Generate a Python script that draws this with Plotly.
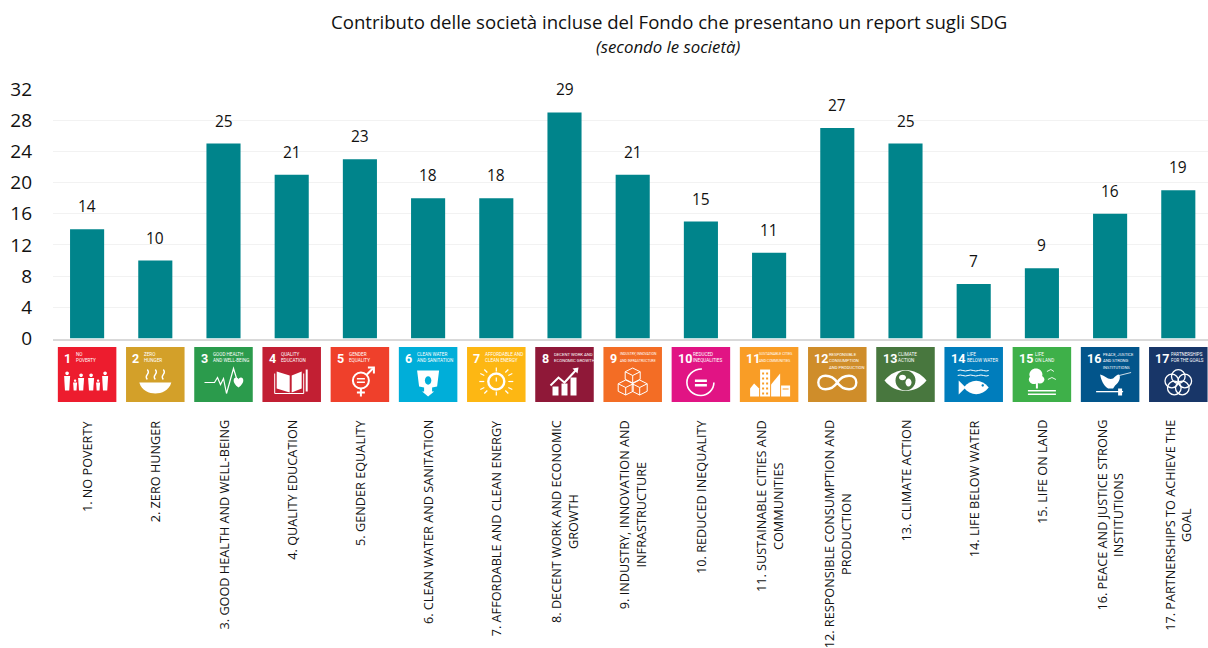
import re
import plotly.graph_objects as go

# Chart content
goal_labels = [
    "1. NO POVERTY", "2. ZERO HUNGER", "3. GOOD HEALTH AND WELL-BEING", "4. QUALITY EDUCATION",
    "5. GENDER EQUALITY", "6. CLEAN WATER AND SANITATION", "7. AFFORDABLE AND CLEAN ENERGY",
    "8. DECENT WORK AND ECONOMIC<br>GROWTH", "9. INDUSTRY, INNOVATION AND<br>INFRASTRUCTURE",
    "10. REDUCED INEQUALITY", "11. SUSTAINABLE CITIES AND<br>COMMUNITIES",
    "12. RESPONSIBLE CONSUMPTION AND<br>PRODUCTION", "13. CLIMATE ACTION", "14. LIFE BELOW WATER",
    "15. LIFE ON LAND", "16. PEACE AND JUSTICE STRONG<br>INSTITUTIONS",
    "17. PARTNERSHIPS TO ACHIEVE THE<br>GOAL",
]
company_counts = [14, 10, 25, 21, 23, 18, 18, 29, 21, 15, 11, 27, 25, 7, 9, 16, 19]
y_ticks = [0, 4, 8, 12, 16, 20, 24, 28, 32]
tile_colors = [
    "#ED1C2E", "#D3A029", "#2B9B4C", "#C21F33", "#EF402B", "#00AED9", "#FDB713", "#8F1838", "#F36D25",
    "#E11484", "#F99D26", "#CF8D2A", "#48773E", "#007DBC", "#3EB049", "#02558B", "#183668",
]
tile_numbers = [str(n) for n in range(1, 18)]
tile_captions = [
    ["NO", "POVERTY"], ["ZERO", "HUNGER"], ["GOOD HEALTH", "AND WELL-BEING"], ["QUALITY", "EDUCATION"],
    ["GENDER", "EQUALITY"], ["CLEAN WATER", "AND SANITATION"], ["AFFORDABLE AND", "CLEAN ENERGY"],
    ["DECENT WORK AND", "ECONOMIC GROWTH"], ["INDUSTRY, INNOVATION", "AND INFRASTRUCTURE"],
    ["REDUCED", "INEQUALITIES"], ["SUSTAINABLE CITIES", "AND COMMUNITIES"],
    ["RESPONSIBLE", "CONSUMPTION", "AND PRODUCTION"], ["CLIMATE", "ACTION"], ["LIFE", "BELOW WATER"],
    ["LIFE", "ON LAND"], ["PEACE, JUSTICE", "AND STRONG", "INSTITUTIONS"], ["PARTNERSHIPS", "FOR THE GOALS"],
]
caption_offsets = [-12, -12, -12, -12, -12, -12, -12, -12, -14, -9, -11, -9, -9, -8, -8, -8, -8]

W, H = 1208, 648
TEAL = "#00848B"
INK = "#111111"
FONT = "Open Sans"
CAPTION_FONT = "Roboto"


# Small vector helpers for the tile pictograms (pixels from the tile centre, y downwards)
def pt(x, y):
    return f"{x:.2f},{-y:.2f}"


def curve(path):
    return re.sub(r"(-?\d+\.?\d*),(-?\d+\.?\d*)", lambda m: pt(float(m[1]), float(m[2])), path)


def poly(*points, close=True):
    body = " L".join(pt(x, y) for x, y in points)
    return f"M{body}" + (" Z" if close else "")


def rect(x0, y0, x1, y1):
    return poly((x0, y0), (x1, y0), (x1, y1), (x0, y1))


def ellipse(cx, cy, rx, ry):
    k = 0.5523
    return (
        f"M{pt(cx + rx, cy)} C{pt(cx + rx, cy + k * ry)} {pt(cx + k * rx, cy + ry)} {pt(cx, cy + ry)} "
        f"C{pt(cx - k * rx, cy + ry)} {pt(cx - rx, cy + k * ry)} {pt(cx - rx, cy)} "
        f"C{pt(cx - rx, cy - k * ry)} {pt(cx - k * rx, cy - ry)} {pt(cx, cy - ry)} "
        f"C{pt(cx + k * rx, cy - ry)} {pt(cx + rx, cy - k * ry)} {pt(cx + rx, cy)} Z"
    )


def person(x, top, h, w):
    return [ellipse(x, top + w * 0.3, w * 0.3, w * 0.3),
            poly((x - w / 2, top + w * 0.75), (x + w / 2, top + w * 0.75), (x + w * 0.35, top + h), (x - w * 0.35, top + h))]


def fill(*paths):
    return [("fill", p, 0) for p in paths]


def cut(*paths):
    return [("cut", p, 0) for p in paths]


def stroke(width, *paths):
    return [("line", p, width) for p in paths]


def seg(x0, y0, x1, y1):
    return poly((x0, y0), (x1, y1), close=False)


def squiggle(x, y0, y1):
    m = (y0 + y1) / 2
    return f"M{pt(x, y1)} Q{pt(x - 2.2, (y1 + m) / 2)} {pt(x, m)} Q{pt(x + 2.2, (y0 + m) / 2)} {pt(x, y0)}"


def wave(x0, x1, y):
    step = (x1 - x0) / 6
    d = f"M{pt(x0, y)}"
    for i in range(6):
        d += f" Q{pt(x0 + (i + .5) * step, y + (1 if i % 2 else -1))} {pt(x0 + (i + 1) * step, y)}"
    return d


def cube(cx, cy, s):
    return [poly((cx, cy - s), (cx + s, cy - s / 2), (cx + s, cy + s / 2), (cx, cy + s), (cx - s, cy + s / 2), (cx - s, cy - s / 2)),
            poly((cx - s, cy - s / 2), (cx, cy), (cx + s, cy - s / 2), close=False),
            seg(cx, cy, cx, cy + s)]


icons = [
    # 1 family
    fill(*person(-20, -3, 19, 6), *person(-12, 5, 11, 4), *person(-6, -1, 17, 6), *person(4, -1, 17, 6), *person(11, 5, 11, 4), *person(18, -3, 19, 6)),
    # 2 steaming bowl
    fill(curve("M-16,8 L16,8 C14,16 6,19 0,19 C-6,19 -14,16 -16,8 Z"))
    + stroke(1.3, squiggle(-8, -5, 5), squiggle(0, -5, 5), squiggle(8, -5, 5)),
    # 3 heartbeat and heart
    stroke(1.2, poly((-19, 8), (-9, 8), (-6, 3), (-3, 10), (0, 4), (3, 19), (10, -6), (14, 7), close=False))
    + fill(curve("M15,13 C8,8 10,3 12.5,3 C14,3 15,4 15,5 C15,4 16,3 17.5,3 C20,3 22,8 15,13 Z")),
    # 4 open book and pencil
    stroke(1.0, poly((-17, -1), (-17, 19), (12, 19), (12, -1), close=False))
    + fill(poly((-15, -3), (-2, 1), (-2, 18), (-15, 14)), poly((10, -3), (0, 1), (0, 18), (10, 14)), rect(14, -5, 16, 17)),
    # 5 gender symbol
    stroke(2.0, ellipse(1, 6, 8, 8), seg(1, 14, 1, 22), seg(-3, 18, 5, 18), seg(7, 0, 13, -6), poly((8, -7), (14, -7), (14, -1), close=False))
    + fill(rect(-3, 3.5, 5, 5), rect(-3, 7, 5, 8.5)),
    # 6 glass with water drop
    fill(poly((-11, -4), (11, -4), (9, 12), (4, 13), (4, 17), (6, 17), (0, 22), (-6, 17), (-4, 17), (-4, 13), (-9, 12)))
    + cut(ellipse(0, 6, 3.2, 4.2)),
    # 7 sun with power sign
    stroke(2.4, ellipse(0, 7, 8, 8))
    + stroke(1.2, *[seg(a, b, c, d) for a, b, c, d in [
        (0, -7, 0, -3), (0, 17, 0, 21), (-12, 7, -17, 7), (12, 7, 17, 7), (-9, -2, -12, -5), (9, -2, 12, -5),
        (-9, 16, -12, 19), (9, 16, 12, 19), (-12, 1, -16, -1), (12, 1, 16, -1), (-12, 13, -16, 15), (12, 13, 16, 15)]])
    + stroke(1.2, seg(0, 3, 0, 7)),
    # 8 rising bars and arrow
    fill(rect(-12, 12, -6, 21), rect(-3, 9, 3, 21), rect(6, 3, 12, 21), poly((8, -6), (14, -7), (13, -1)))
    + stroke(2.0, poly((-14, 11), (-6, 3), (0, 8), (12, -5), close=False)),
    # 9 stacked cubes
    stroke(1.0, *cube(-7, 13, 7.5), *cube(7, 13, 7.5), *cube(0, 1, 7.5)),
    # 10 broken ring with equals
    stroke(1.6, curve("M1,-5.5 C-8,-5.5 -14,1 -14,8 C-14,15 -8,21 0,21 C7,21 13,15 13,8"))
    + fill(rect(-6, 5, 6, 7.5), rect(-6, 9.5, 6, 12)),
    # 11 city skyline
    fill(poly((-19, 22), (-19, 14), (-15, 9), (-10, 14), (-10, 22)), rect(-9, -5, 1, 22), poly((2, 22), (2, 10), (11, -1), (11, 22)), rect(12, 11, 21, 22))
    + cut(*[rect(x, y, x + 2, y + 2) for x in (-7, -3) for y in (-2, 3, 8, 13, 18)], rect(13.5, 14, 19.5, 15)),
    # 12 infinity loop
    stroke(2.4, curve("M0,8 C-6,17 -19,17 -19,8 C-19,-1 -6,-1 0,8 C6,17 19,17 19,8 C19,-1 6,-1 0,8 Z")),
    # 13 eye with globe
    fill(curve("M-21,6 C-10,-8 10,-8 21,6 C10,20 -10,20 -21,6 Z"))
    + cut(ellipse(0, 6, 10, 10)) + fill(ellipse(-3, 3, 3.5, 2.8), ellipse(3, 8, 3, 4)),
    # 14 waves and fish
    stroke(1.0, wave(-16, 15, -4), wave(-16, 15, 1))
    + fill(curve("M-10,13 C-3,4 8,4 15,13 C8,22 -3,22 -10,13 Z"), poly((-15, 6), (-8, 13), (-15, 20)))
    + cut(ellipse(9, 11, 1.2, 1.2)),
    # 15 tree, birds and ground
    fill(ellipse(-6, 0, 6.5, 6), ellipse(-8, 5, 5, 4.5), ellipse(-2, 5, 4.5, 4), rect(-6, 8, -4, 14), rect(-14, 15.5, 14, 17), rect(-14, 19, 14, 20.5))
    + stroke(0.9, poly((5, -3), (9, -5), (12, -3), close=False), poly((6, 5), (10, 3), (14, 5), close=False)),
    # 16 dove and gavel
    fill(curve("M-10,0 C-5,1 -2,6 3,4 C5,2 7,0 9,0 C11,3 9,8 5,11 L3,14 L-2,14 C-7,11 -9,5 -10,0 Z"), rect(-14, 16.5, 13, 17.8), rect(8, 14, 12, 21))
    + stroke(0.8, seg(9, 1, 21, -2)),
    # 17 interlocking rings
    stroke(1.3, ellipse(0, 2, 6.8, 6.8), ellipse(-6.5, 6.5, 6.8, 6.8), ellipse(6.5, 6.5, 6.8, 6.8), ellipse(-4, 13.5, 6.8, 6.8), ellipse(4, 13.5, 6.8, 6.8)),
]

positions = list(range(len(goal_labels)))

fig = go.Figure()
fig.add_bar(x=positions, y=company_counts, width=0.5, marker=dict(color=TEAL, line_width=0),
            xaxis="x", yaxis="y", hoverinfo="skip")
fig.add_bar(x=positions, y=[1] * len(positions), width=0.858, marker=dict(color=tile_colors, line_width=0),
            xaxis="x", yaxis="y2", hoverinfo="skip")
# Empty trace keeps the full-page pixel axes alive; free-standing text is placed on them
fig.add_scatter(x=[], y=[], xaxis="x3", yaxis="y3", hoverinfo="skip")

annotations = [
    dict(text="Contributo delle società incluse del Fondo che presentano un report sugli SDG", xref="x3", yref="y3",
         x=668.5, y=21, showarrow=False, font=dict(family=FONT, size=18.6, color=INK)),
    dict(text="<i>(secondo le società)</i>", xref="x3", yref="y3", x=667.5, y=46,
         showarrow=False, font=dict(family=FONT, size=16.8, color=INK)),
]
for i, value in enumerate(company_counts):
    annotations.append(dict(text=str(value), x=i, y=value, xref="x", yref="y", yanchor="middle", yshift=23,
                            showarrow=False, font=dict(family=FONT, size=15.5, color=INK)))
    annotations.append(dict(text=goal_labels[i], x=i, y=418, xref="x", yref="y3", yanchor="top", textangle=-90,
                            align="center", showarrow=False, font=dict(family=FONT, size=12.7, color=INK)))
    annotations.append(dict(text=f"<b>{tile_numbers[i]}</b>", x=i, y=358, xref="x", yref="y3", xanchor="left", yanchor="middle",
                            xshift=-25, showarrow=False, font=dict(family=CAPTION_FONT, size=12.5, color="white")))
    lines = tile_captions[i]
    room = 26.5 - caption_offsets[i]
    size = min(4.6, room / (0.6 * max(len(line) for line in lines)))
    for j, line in enumerate(lines):
        annotations.append(dict(text=line, x=i, y=354.3 + 6.4 * j, xref="x", yref="y3", xanchor="left", yanchor="middle",
                                xshift=caption_offsets[i] - 1, showarrow=False,
                                font=dict(family=CAPTION_FONT, size=size, color="white")))

shapes = []
for i, icon in enumerate(icons):
    for kind, path, width in icon:
        shape = dict(type="path", path=path, xref="x", yref="y2", xsizemode="pixel", ysizemode="pixel",
                     xanchor=i, yanchor=0.5, layer="above")
        if kind == "fill":
            shape.update(fillcolor="white", line_width=0)
        elif kind == "cut":
            shape.update(fillcolor=tile_colors[i], line_width=0)
        else:
            shape.update(fillcolor="rgba(0,0,0,0)", line=dict(color="white", width=width))
        shapes.append(shape)

fig.update_layout(
    width=W, height=H, autosize=False, margin=dict(l=0, r=0, t=0, b=0, pad=0, autoexpand=False),
    paper_bgcolor="white", plot_bgcolor="rgba(0,0,0,0)", showlegend=False, barmode="overlay", hovermode=False,
    annotations=annotations, shapes=shapes,
    xaxis=dict(domain=[53 / W, 1], range=[-0.5, -0.5 + (W - 53) / 68.2], showgrid=False, zeroline=False,
               showticklabels=False, ticks="", showline=True, linecolor="#D9D9D9", linewidth=2, anchor="y"),
    yaxis=dict(domain=[1 - 338.5 / H, 1 - 89 / H], range=[0, 32], tickvals=y_ticks, gridcolor="#F2F2F2", gridwidth=1,
               zeroline=False, showline=False, ticks="", ticklabelstandoff=20,
               tickfont=dict(family=FONT, size=19, color=INK)),
    yaxis2=dict(domain=[1 - 402 / H, 1 - 347 / H], range=[0, 1], visible=False, anchor="x"),
    xaxis3=dict(domain=[0, 1], range=[0, W], visible=False, anchor="y3"),
    yaxis3=dict(domain=[0, 1], range=[H, 0], visible=False, anchor="x3"),
)

fig.write_html("out.html")
